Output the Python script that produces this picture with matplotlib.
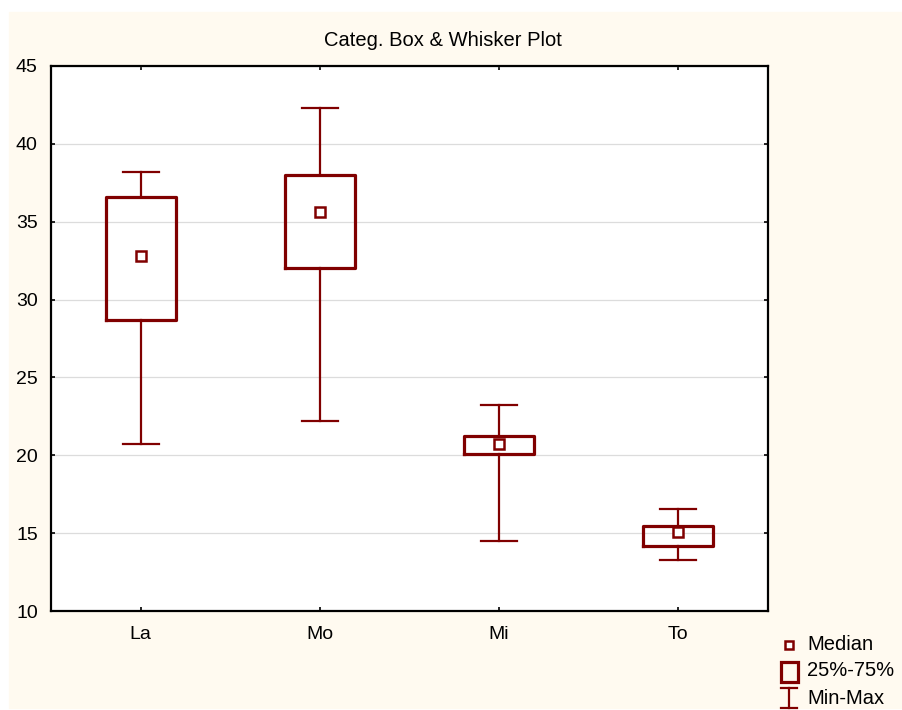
import matplotlib
matplotlib.use('Agg')
import matplotlib.pyplot as plt
from matplotlib.patches import Rectangle
from matplotlib.lines import Line2D

plt.rcParams['font.family'] = ['Liberation Sans', 'DejaVu Sans']

# values
categories = ['La', 'Mo', 'Mi', 'To']
mins = [20.7, 22.2, 14.5, 13.3]
q1 = [28.7, 32.05, 20.1, 14.2]
medians = [32.8, 35.6, 20.75, 15.1]
q3 = [36.6, 38.0, 21.25, 15.45]
maxs = [38.2, 42.3, 23.25, 16.55]

W, H = 903, 710
dark_red = '#800000'
cream = '#fffaf0'

def fx(px):
    return px / W

def fy(py):
    return 1 - py / H

fig = plt.figure(figsize=(W / 100, H / 100), dpi=100, facecolor='white')
fig.patches.append(Rectangle((fx(9), fy(708)), 1, (708 - 12) / H,
                             transform=fig.transFigure, color=cream, zorder=-5))

ax = fig.add_axes([fx(51), fy(611), (768 - 51) / W, (611 - 66) / H])
ax.set_facecolor('white')

stats = []
for i, name in enumerate(categories):
    stats.append(dict(label=name, whislo=mins[i], q1=q1[i], med=medians[i],
                      q3=q3[i], whishi=maxs[i], fliers=[]))

positions = list(range(1, len(categories) + 1))
ax.bxp(stats, positions=positions, widths=0.39, capwidths=0.2,
       showfliers=False, patch_artist=False,
       boxprops=dict(color=dark_red, linewidth=2.3),
       whiskerprops=dict(color=dark_red, linewidth=1.6),
       capprops=dict(color=dark_red, linewidth=1.6),
       medianprops=dict(visible=False), zorder=3)
ax.plot(positions, medians, 's', ms=6.5, mfc='white', mec=dark_red,
        mew=1.8, ls='none', zorder=4)

ax.set_xlim(0.5, 4.5)
ax.set_ylim(10, 45)
ax.set_yticks(range(10, 46, 5))
ax.set_xticks(positions)
ax.set_xticklabels(categories)
ax.yaxis.grid(True, color='#dcdcdc', linewidth=0.9, zorder=0)
ax.set_axisbelow(True)
ax.tick_params(direction='in', length=3, width=1.2, labelsize=14,
               top=True, right=True)
ax.tick_params(axis='x', pad=10.5)
ax.tick_params(axis='y', pad=9.5)
for s in ax.spines.values():
    s.set_linewidth(1.6)
    s.set_color('black')

fig.text(fx(443), fy(40), 'Categ. Box & Whisker Plot', ha='center',
         va='center', fontsize=14.5)

# legend drawn by hand, like the original
fig.add_artist(Line2D([fx(789)], [fy(645)], marker='s', ms=6, mfc='white',
                      mec=dark_red, mew=1.8, transform=fig.transFigure))
fig.patches.append(Rectangle((fx(781.5), fy(682)), (798 - 781.5) / W, 20 / H,
                             transform=fig.transFigure, fill=False,
                             edgecolor=dark_red, linewidth=2.3))
fig.add_artist(Line2D([fx(789), fx(789)], [fy(688), fy(708)], color=dark_red,
                      lw=1.6, transform=fig.transFigure))
fig.add_artist(Line2D([fx(781), fx(797)], [fy(688), fy(688)], color=dark_red,
                      lw=1.6, transform=fig.transFigure))
fig.add_artist(Line2D([fx(781), fx(797)], [fy(708), fy(708)], color=dark_red,
                      lw=1.6, transform=fig.transFigure))
for label, py in [('Median', 645), ('25%-75%', 671), ('Min-Max', 698)]:
    fig.text(fx(807), fy(py), label, ha='left', va='center', fontsize=14.5)

fig.savefig('out.png', dpi=100, facecolor='white')
